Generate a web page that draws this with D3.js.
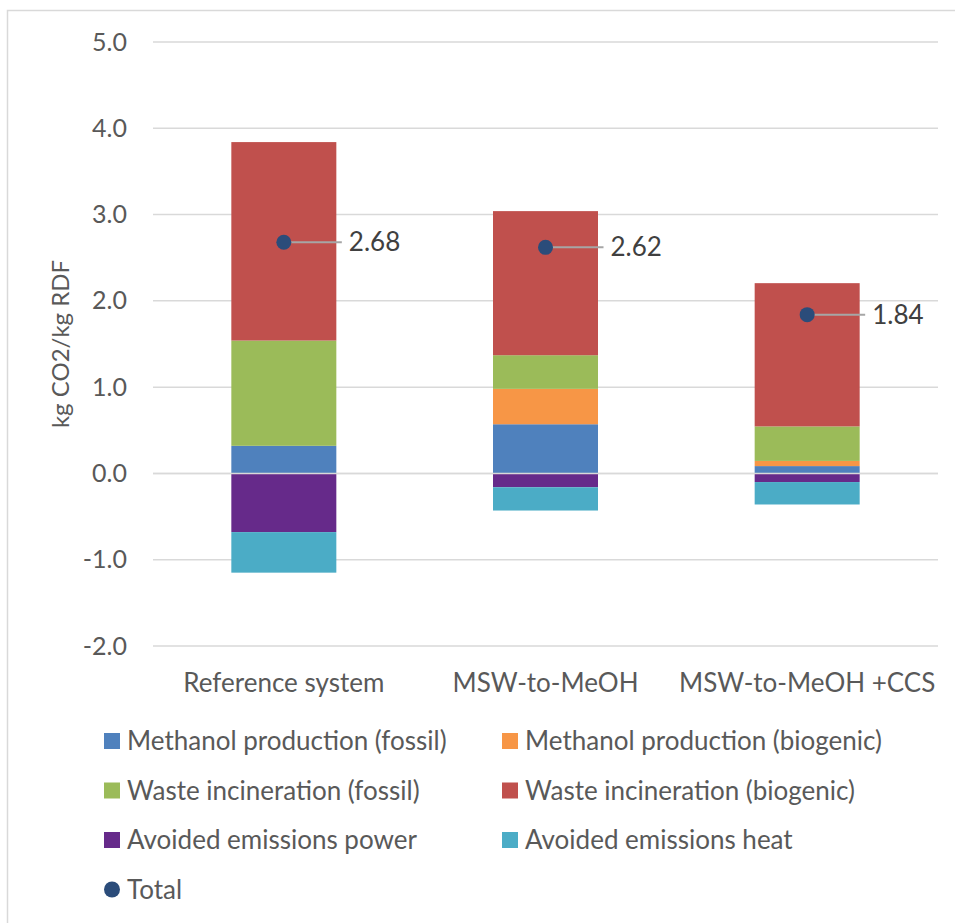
<!DOCTYPE html>
<html>
<head>
<meta charset="utf-8">
<script src="https://d3js.org/d3.v7.min.js"></script>
<style>
	body{margin:0;background:#fff;}
	text{font-family:Lato,"Open Sans",sans-serif;}
</style>
</head>
<body>
<div id="chart"></div>
<script>

// data
var categories = ["Reference system", "MSW-to-MeOH", "MSW-to-MeOH +CCS"];
var methanolFossil = [0.32, 0.57, 0.085];
var methanolBiogenic = [0, 0.41, 0.06];
var wasteFossil = [1.22, 0.39, 0.40];
var wasteBiogenic = [2.30, 1.67, 1.66];
var avoidedPower = [-0.68, -0.16, -0.10];
var avoidedHeat = [-0.47, -0.27, -0.26];
var totals = [2.68, 2.62, 1.84];
var yTicks = [-2, -1, 0, 1, 2, 3, 4, 5];

var seriesNames = ["Methanol production (fossil)", "Methanol production (biogenic)",
	"Waste incineration (fossil)", "Waste incineration (biogenic)",
	"Avoided emissions power", "Avoided emissions heat"];
var seriesValues = [methanolFossil, methanolBiogenic, wasteFossil, wasteBiogenic, avoidedPower, avoidedHeat];
var colors = ["#4F81BD", "#F79646", "#9BBB59", "#C0504D", "#662A8A", "#4BACC6"];

var width = 955, height = 923;
var fontSize = 26;

var svg = d3.select("#chart").append("svg")
	.attr("width", width)
	.attr("height", height);

// outer chart border (runs off right and bottom)
svg.append("rect")
	.attr("x", 7.5)
	.attr("y", 10.5)
	.attr("width", 1000)
	.attr("height", 1000)
	.attr("fill", "none")
	.attr("stroke", "#D9D9D9")
	.attr("stroke-width", 1.5);

var x = d3.scaleBand().domain(categories).range([153, 938]);
var y = d3.scaleLinear().domain([-2, 5]).range([646, 42]);
var barWidth = 105;

//gridlines
svg.append("g").selectAll("line")
	.data(yTicks)
	.enter()
	.append("line")
	.attr("x1", 153)
	.attr("x2", 938)
	.attr("y1", function(d){ return y(d); })
	.attr("y2", function(d){ return y(d); })
	.attr("stroke", "#D9D9D9")
	.attr("stroke-width", 1.5);

// y axis labels, plain hyphen for negatives like the original
var yAxis = d3.axisLeft(y).tickValues(yTicks)
	.tickFormat(function(d){ return d.toFixed(1); })
	.tickSize(0).tickPadding(0);
var yg = svg.append("g").attr("transform", "translate(127,0)").call(yAxis);
yg.select(".domain").remove();
yg.selectAll("text")
	.attr("font-family", "Lato, sans-serif")
	.attr("font-size", 25)
	.attr("fill", "#595959");

svg.append("text")
	.attr("transform", "translate(69," + y(1.5) + ") rotate(-90)")
	.attr("text-anchor", "middle")
	.attr("font-size", 24)
	.attr("fill", "#595959")
	.text("kg CO2/kg RDF");

// stacked bars
var table = categories.map(function(c, i){
	var row = {cat: c};
	seriesNames.forEach(function(s, j){ row[s] = seriesValues[j][i]; });
	return row;
});

var stack = d3.stack().keys(seriesNames).offset(d3.stackOffsetDiverging);
var layers = stack(table);

var groups = svg.append("g").selectAll("g")
	.data(layers)
	.enter()
	.append("g")
	.attr("fill", function(d, i){ return colors[i]; });

groups.selectAll("rect")
	.data(function(d){ return d; })
	.enter()
	.append("rect")
	.attr("x", function(d){ return x(d.data.cat) + x.bandwidth()/2 - barWidth/2; })
	.attr("width", barWidth)
	.attr("y", function(d){ return y(Math.max(d[0], d[1])); })
	.attr("height", function(d){ return Math.abs(y(d[0]) - y(d[1])); });

// zero axis line on top
svg.append("line")
	.attr("x1", 153)
	.attr("x2", 938)
	.attr("y1", y(0))
	.attr("y2", y(0))
	.attr("stroke", "#D9D9D9")
	.attr("stroke-width", 1.5);

// category labels
svg.append("g").selectAll("text")
	.data(categories)
	.enter()
	.append("text")
	.attr("x", function(d){ return x(d) + x.bandwidth()/2; })
	.attr("y", 692)
	.attr("text-anchor", "middle")
	.attr("font-size", fontSize)
	.attr("fill", "#595959")
	.text(function(d){ return d; });

// totals
var tot = svg.append("g").selectAll("g")
	.data(totals)
	.enter()
	.append("g")
	.attr("transform", function(d, i){ return "translate(" + (x(categories[i]) + x.bandwidth()/2) + "," + y(d) + ")"; });

tot.append("line")
	.attr("x1", 0)
	.attr("x2", 58)
	.attr("stroke", "#A6A6A6")
	.attr("stroke-width", 2);

tot.append("circle")
	.attr("r", 7.5)
	.attr("fill", "#2B4C7A");

tot.append("text")
	.attr("x", 65)
	.attr("dy", "0.35em")
	.attr("font-size", 26)
	.attr("fill", "#404040")
	.text(function(d){ return d3.format(".2f")(d); });

// legend
var legendX = [104, 502];
var legendY = [741, 790.5, 840, 889.5];

var leg = svg.append("g").selectAll("g")
	.data(seriesNames)
	.enter()
	.append("g")
	.attr("transform", function(d, i){ return "translate(" + legendX[i % 2] + "," + legendY[Math.floor(i/2)] + ")"; });

leg.append("rect")
	.attr("x", 0)
	.attr("y", -8)
	.attr("width", 16)
	.attr("height", 16)
	.attr("fill", function(d, i){ return colors[i]; });

leg.append("text")
	.attr("x", 23)
	.attr("dy", "0.35em")
	.attr("font-size", fontSize)
	.attr("fill", "#595959")
	.text(function(d){ return d; });

var totLeg = svg.append("g").attr("transform", "translate(" + legendX[0] + "," + legendY[3] + ")");
totLeg.append("circle")
	.attr("cx", 8)
	.attr("r", 8)
	.attr("fill", "#2B4C7A");
totLeg.append("text")
	.attr("x", 23)
	.attr("dy", "0.35em")
	.attr("font-size", fontSize)
	.attr("fill", "#595959")
	.text("Total");

</script>
</body>
</html>
